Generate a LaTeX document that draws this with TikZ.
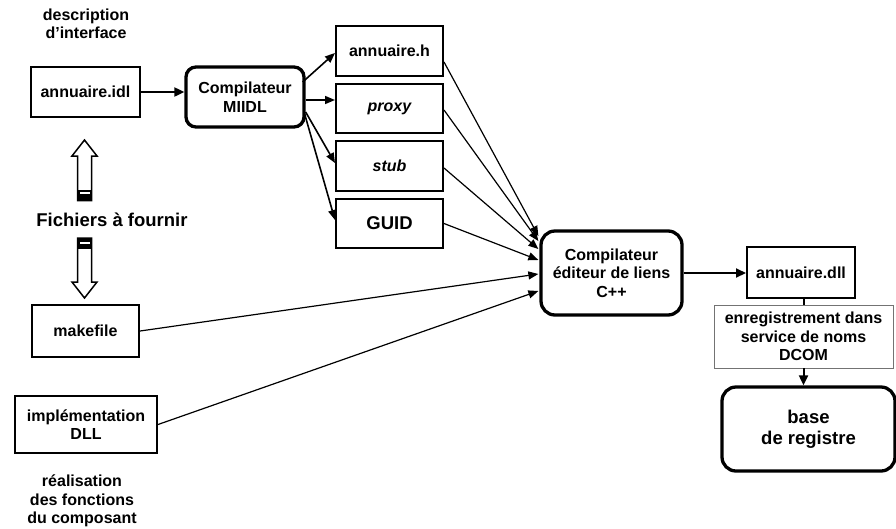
\documentclass[tikz,border=0pt]{standalone}
\usepackage{fontspec}
\setmainfont{Liberation Sans}
\usetikzlibrary{arrows.meta,calc}

\tikzset{
  txt/.style={font=\bfseries\fontsize{16}{18.4}\selectfont, align=center, inner sep=0pt},
  bigtxt/.style={font=\bfseries\fontsize{18.5}{21.2}\selectfont, align=center, inner sep=0pt},
  filebox/.style={txt, draw, line width=2pt, minimum width=107pt, minimum height=50pt},
  toolbox/.style={txt, draw, line width=3.3pt, rounded corners=11pt},
  notebox/.style={txt, draw=black!55, line width=0.8pt, fill=white},
  conn/.style={-{Triangle[length=10pt,width=9pt]}, line width=2pt},
  feed/.style={-{Triangle[length=10pt,width=8pt]}, line width=1.6pt},
  link/.style={-{Triangle[length=10pt,width=8pt]}, line width=1.2pt},
  hollow/.style={draw, line width=1.5pt, fill=white, line join=miter},
}

\begin{document}
\begin{tikzpicture}[x=1pt, y=-1pt]
  \useasboundingbox (0,0) rectangle (896,528);

  % --- source files and annotations ---
  \node[txt] (desc) at (86,24) {description\\d’interface};
  \node[filebox, minimum width=109pt] (idl) at (85.5,92) {annuaire.idl};
  \node[bigtxt] (fich) at (112,220) {Fichiers à fournir};
  \node[filebox, minimum height=52pt] (make) at (85.5,331) {makefile};
  \node[filebox, minimum width=142pt, minimum height=57pt] (impl) at (86,424.5) {implémentation\\DLL};
  \node[txt] (real) at (82,501) {réalisation\\des fonctions\\du composant};

  % --- striped hollow arrows around the caption ---
  \draw[hollow] (84.5,140) -- (97,156) -- (91.5,156) -- (91.5,200.5)
    -- (77.5,200.5) -- (77.5,156) -- (72,156) -- cycle;
  \fill[black] (77.5,189.5) rectangle (91.5,200.5);
  \fill[white] (79.5,192) rectangle (89.5,194);

  \draw[hollow] (84.5,298) -- (97,282) -- (91.5,282) -- (91.5,238)
    -- (77.5,238) -- (77.5,282) -- (72,282) -- cycle;
  \fill[black] (77.5,238) rectangle (91.5,249);
  \fill[white] (79.5,241.5) rectangle (89.5,243.5);

  % --- IDL compiler and its outputs ---
  \node[toolbox, minimum width=118pt, minimum height=60pt, rounded corners=10pt] (miidl) at (245,97) {Compilateur\\MIIDL};
  \node[filebox] (hfile) at (389.5,51) {annuaire.h};
  \node[filebox, minimum height=49pt] (proxy) at (389.5,108.5) {\itshape proxy};
  \node[filebox] (stub) at (389.5,166) {\itshape stub};
  \node[filebox, minimum height=49pt, bigtxt] (guid) at (389.5,223.5) {GUID};

  % --- C++ build and registration ---
  \node[toolbox, minimum width=141pt, minimum height=84pt, rounded corners=14pt] (cpp) at (611.5,273) {Compilateur\\éditeur de liens\\C++};
  \node[filebox, minimum width=108pt, minimum height=51pt] (dll) at (801,272.5) {annuaire.dll};
  \node[notebox, minimum width=179pt, minimum height=63pt] (reg) at (803.5,336.5) {enregistrement dans\\service de noms\\DCOM};
  \node[toolbox, bigtxt, minimum width=173pt, minimum height=84pt, rounded corners=14pt] (base) at (808.5,429) {base\\de registre};

  % --- connectors ---
  \draw[conn] (idl.east) -- (idl.east -| miidl.west);

  \draw[feed] ([xshift=-3pt,yshift=15pt]miidl.east) -- ([yshift=-2pt]hfile.west);
  \draw[feed] ([yshift=-3pt]miidl.east) -- ([yshift=-3pt]miidl.east -| proxy.west);
  \draw[feed] ([yshift=-15pt]miidl.east) -- ([yshift=3pt]stub.west);
  \draw[feed] ([xshift=-1pt,yshift=-17pt]miidl.east) -- ([yshift=3.5pt]guid.west);

  \draw[link] ([yshift=-11pt]hfile.east) -- ([xshift=-1pt,yshift=37pt]cpp.west);
  \draw[link] ([yshift=-1.5pt]proxy.east) -- ([xshift=-1pt,yshift=32pt]cpp.west);
  \draw[link] ([yshift=-2pt]stub.east) -- ([xshift=-1pt,yshift=24pt]cpp.west);
  \draw[link] (guid.east) -- ([xshift=-1pt,yshift=13pt]cpp.west);
  \draw[link] (make.east) -- ([xshift=-1pt,yshift=-1pt]cpp.west);
  \draw[link] (impl.east) -- ([xshift=-1pt,yshift=-18pt]cpp.west);

  \draw[conn] (cpp.east) -- (cpp.east -| dll.west);
  \draw[line width=2pt] (reg.north |- dll.south) -- (reg.north);
  \draw[conn] (reg.south) -- (reg.south |- base.north);
\end{tikzpicture}
\end{document}
